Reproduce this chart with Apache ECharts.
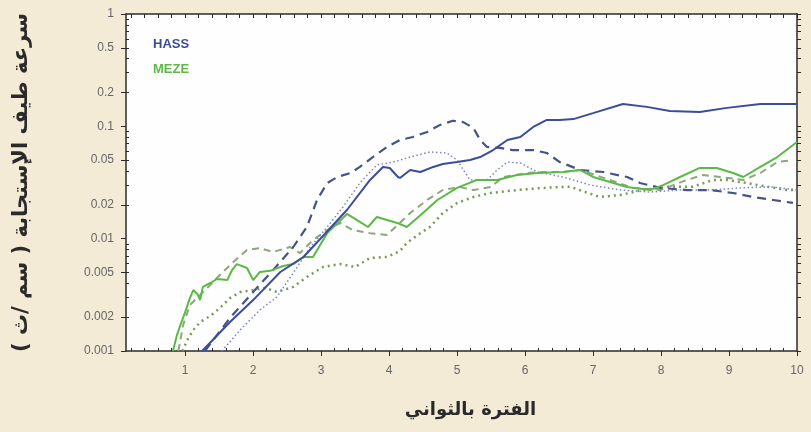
<!DOCTYPE html>
<html>
<head>
<meta charset="utf-8">
<style>
  html, body { margin: 0; padding: 0; background: #f4ebd7; }
  #chart { width: 811px; height: 432px; }
</style>
<script src="https://cdn.jsdelivr.net/npm/echarts@6/dist/echarts.min.js"></script>
</head>
<body>
<div id="chart"></div>
<script>
// Tick labels
const xTicks = [1, 2, 3, 4, 5, 6, 7, 8, 9, 10];
const yTicks = [0.001, 0.002, 0.005, 0.01, 0.02, 0.05, 0.1, 0.2, 0.5, 1];

// Station names
const stations = ['HASS', 'MEZE'];

// Response spectra: [period (s), velocity (cm/s)]
const hassSolid = [
  [1.25, 0.001], [1.66, 0.00181], [2.0, 0.00284], [2.4, 0.00505], [2.74, 0.00687],
  [3.01, 0.0103], [3.38, 0.018], [3.72, 0.0333], [3.91, 0.0435], [4.01, 0.0426],
  [4.13, 0.0354], [4.16, 0.0347], [4.31, 0.0409], [4.46, 0.0392], [4.65, 0.0435],
  [4.79, 0.0462], [5.0, 0.0481], [5.19, 0.0501], [5.34, 0.0533], [5.53, 0.0615],
  [5.74, 0.0755], [5.93, 0.0804], [6.12, 0.0987], [6.32, 0.114], [6.51, 0.114],
  [6.71, 0.116], [7.0, 0.131], [7.44, 0.158], [7.79, 0.149], [8.13, 0.137],
  [8.57, 0.134], [8.97, 0.146], [9.46, 0.158], [10.0, 0.158]
];
const hassDashed = [
  [1.29, 0.001], [1.66, 0.00197], [2.0, 0.00335], [2.32, 0.00548], [2.59, 0.00843],
  [2.79, 0.0127], [2.94, 0.0221], [3.09, 0.0313], [3.24, 0.0354], [3.43, 0.0384],
  [3.57, 0.0435], [3.76, 0.0533], [3.97, 0.0655], [4.16, 0.0755], [4.35, 0.0804],
  [4.56, 0.0891], [4.75, 0.103], [4.94, 0.112], [5.09, 0.109], [5.24, 0.0966],
  [5.34, 0.0755], [5.44, 0.0655], [5.63, 0.0642], [5.82, 0.0615], [6.12, 0.0615],
  [6.32, 0.0579], [6.51, 0.0481], [6.81, 0.0409], [7.15, 0.0392], [7.5, 0.0354],
  [7.69, 0.0313], [7.99, 0.0283], [8.38, 0.0271], [8.72, 0.0271], [9.06, 0.0255],
  [9.35, 0.0235], [9.65, 0.0221], [9.94, 0.0208]
];
const hassDotted = [
  [1.54, 0.001], [1.81, 0.00154], [2.1, 0.00232], [2.35, 0.00303], [2.59, 0.00495],
  [2.84, 0.00843], [3.09, 0.0127], [3.32, 0.0191], [3.57, 0.0313], [3.82, 0.0453],
  [4.06, 0.0481], [4.31, 0.0533], [4.6, 0.0591], [4.85, 0.0579], [5.0, 0.0501],
  [5.19, 0.0333], [5.44, 0.0333], [5.59, 0.0409], [5.74, 0.0481], [5.93, 0.0472],
  [6.18, 0.0393], [6.56, 0.0354], [6.96, 0.03], [7.4, 0.0271], [7.84, 0.026],
  [8.28, 0.0271], [8.72, 0.0271], [9.16, 0.0283], [9.6, 0.029], [10.0, 0.0271]
];
const mezeSolid = [
  [0.82, 0.001], [0.88, 0.00139], [0.93, 0.0017], [1.0, 0.00222], [1.07, 0.00296],
  [1.12, 0.00349], [1.18, 0.00322], [1.22, 0.00284], [1.26, 0.00372], [1.37, 0.00403],
  [1.47, 0.00438], [1.62, 0.00428], [1.69, 0.00526], [1.76, 0.00594], [1.91, 0.00548],
  [2.0, 0.00428], [2.1, 0.00505], [2.25, 0.00517], [2.44, 0.00571], [2.59, 0.00594],
  [2.74, 0.00687], [2.88, 0.00687], [3.09, 0.0112], [3.38, 0.0166], [3.57, 0.0141],
  [3.69, 0.0127], [3.82, 0.0156], [4.12, 0.0138], [4.26, 0.0127], [4.46, 0.0162],
  [4.71, 0.0221], [5.0, 0.0283], [5.29, 0.0333], [5.59, 0.0333], [5.88, 0.0369],
  [6.18, 0.0384], [6.56, 0.0392], [6.81, 0.0409], [7.0, 0.0354], [7.5, 0.0288],
  [7.84, 0.0271], [8.03, 0.03], [8.28, 0.0354], [8.57, 0.0426], [8.82, 0.0426],
  [9.06, 0.0384], [9.21, 0.0354], [9.46, 0.0435], [9.71, 0.0533], [10.0, 0.0726]
];
const mezeDashed = [
  [0.9, 0.001], [0.97, 0.0017], [1.07, 0.00257], [1.22, 0.00315], [1.37, 0.00387],
  [1.51, 0.00475], [1.71, 0.0062], [1.91, 0.00793], [2.1, 0.00826], [2.29, 0.0076],
  [2.54, 0.00843], [2.69, 0.00745], [2.88, 0.00973], [3.09, 0.0119], [3.28, 0.0138],
  [3.47, 0.0119], [3.72, 0.0112], [3.97, 0.0108], [4.31, 0.0169], [4.56, 0.0221],
  [4.79, 0.0271], [5.04, 0.0288], [5.24, 0.0271], [5.49, 0.0288], [5.68, 0.0354],
  [6.03, 0.0384], [6.26, 0.0392], [6.56, 0.0392], [6.81, 0.0409], [7.25, 0.0333],
  [7.59, 0.0283], [7.99, 0.0271], [8.38, 0.0333], [8.62, 0.0369], [8.87, 0.0354],
  [9.21, 0.0333], [9.46, 0.0384], [9.71, 0.0481], [9.94, 0.0501]
];
const mezeDotted = [
  [0.96, 0.001], [1.03, 0.00125], [1.12, 0.00154], [1.22, 0.00181], [1.37, 0.00205],
  [1.51, 0.00241], [1.66, 0.00296], [1.81, 0.00335], [2.0, 0.00349], [2.18, 0.00364],
  [2.35, 0.00335], [2.59, 0.00372], [2.79, 0.00456], [3.03, 0.0056], [3.28, 0.00594],
  [3.5, 0.0056], [3.72, 0.00673], [3.97, 0.00687], [4.16, 0.00776], [4.26, 0.00915],
  [4.46, 0.0112], [4.6, 0.0127], [4.79, 0.0169], [5.0, 0.0208], [5.24, 0.0235],
  [5.49, 0.0255], [5.88, 0.0271], [6.26, 0.0283], [6.66, 0.029], [7.1, 0.0235],
  [7.4, 0.0245], [7.74, 0.0271], [8.09, 0.029], [8.47, 0.029], [8.76, 0.0333],
  [8.97, 0.0333], [9.26, 0.0313], [9.56, 0.029], [9.85, 0.0271], [10.0, 0.0271]
];

const BLUE = '#3b4c9c';
const GREEN = '#5cb947';

// Minor tick positions: every 0.2 s along the period axis, 2..9 per decade on the log axis
const xMinor = [];
for (let i = 1; i <= 50; i++) { const v = +(i * 0.2).toFixed(1); if (v >= 0.2 && v <= 10 && Math.abs(v - Math.round(v)) > 1e-6) xMinor.push(v); }
const yMinor = [];
[0.001, 0.01, 0.1].forEach(d => { for (let k = 2; k <= 9; k++) yMinor.push(+(d * k).toPrecision(3)); });

const frame = { show: true, lineStyle: { color: '#2b2b2b', width: 1.5 } };
const labelStyle = { color: '#666666', fontFamily: 'Liberation Sans', fontSize: 12 };

function line(data, color, type, width) {
  return {
    type: 'line', data: data, showSymbol: false, symbol: 'none', smooth: false,
    xAxisIndex: 0, yAxisIndex: 0, clip: true,
    lineStyle: { color: color, type: type, width: width, cap: 'butt' }
  };
}

const chart = echarts.init(document.getElementById('chart'), null, { renderer: 'canvas' });
chart.setOption({
  backgroundColor: '#f4ebd7',
  animation: false,
  grid: { left: 126, right: 14, top: 14, bottom: 81, show: true, backgroundColor: '#fefefe', borderWidth: 0 },
  xAxis: [
    {
      type: 'value', min: 0.13, max: 10, position: 'bottom',
      axisLine: frame, splitLine: { show: false },
      axisTick: { show: true, inside: false, length: 5, customValues: xTicks, lineStyle: { color: '#2b2b2b' } },
      axisLabel: Object.assign({ customValues: xTicks, margin: 14 }, labelStyle),
      name: 'الفترة بالثواني', nameLocation: 'middle', nameGap: 50,
      nameTextStyle: { fontFamily: 'DejaVu Sans', fontWeight: 'bold', fontSize: 18, color: '#2a2a2a', padding: [0, 0, 0, 18] }
    },
    {
      type: 'value', min: 0.13, max: 10, position: 'bottom',
      axisLine: { show: false }, splitLine: { show: false }, axisLabel: { show: false },
      axisTick: { show: true, inside: true, length: 3, customValues: xMinor, lineStyle: { color: '#2b2b2b' } }
    },
    {
      type: 'value', min: 0.13, max: 10, position: 'top',
      axisLine: frame, splitLine: { show: false }, axisLabel: { show: false },
      axisTick: { show: true, inside: true, length: 4, customValues: xTicks.concat(xMinor), lineStyle: { color: '#2b2b2b' } }
    }
  ],
  yAxis: [
    {
      type: 'log', logBase: 10, min: 0.001, max: 1, position: 'left',
      axisLine: frame, splitLine: { show: false }, minorTick: { show: false },
      axisTick: { show: true, inside: false, length: 5, customValues: yTicks, lineStyle: { color: '#2b2b2b' } },
      axisLabel: Object.assign({ customValues: yTicks, margin: 12, formatter: v => String(+v.toPrecision(3)) }, labelStyle),
      name: 'سرعة طيف الإستجابة ( سم /ث )', nameLocation: 'middle', nameGap: 94, nameRotate: 90,
      nameTextStyle: { fontFamily: 'DejaVu Sans', fontWeight: 'bold', fontSize: 21, color: '#2a2a2a' }
    },
    {
      type: 'log', logBase: 10, min: 0.001, max: 1, position: 'left',
      axisLine: { show: false }, splitLine: { show: false }, axisLabel: { show: false },
      axisTick: { show: true, inside: true, length: 3, customValues: yMinor, lineStyle: { color: '#2b2b2b' } }
    },
    {
      type: 'log', logBase: 10, min: 0.001, max: 1, position: 'right',
      axisLine: frame, splitLine: { show: false }, axisLabel: { show: false },
      axisTick: { show: true, inside: false, length: 4, customValues: yTicks.concat(yMinor), lineStyle: { color: '#2b2b2b' } }
    }
  ],
  graphic: [
    { type: 'text', left: 153, top: 38, style: { text: stations[0], fill: BLUE, font: 'bold 13px "Liberation Sans"' } },
    { type: 'text', left: 153, top: 63, style: { text: stations[1], fill: GREEN, font: 'bold 13px "Liberation Sans"' } }
  ],
  series: [
    line(mezeDotted, '#7a9a58', [2, 4], 2.5),
    line(mezeDashed, '#8aa87a', [7, 5], 2),
    line(hassDotted, '#7d83cc', [1.5, 2.5], 1.5),
    line(hassDashed, '#46538a', [9, 6], 2.2),
    line(mezeSolid, GREEN, 'solid', 2),
    line(hassSolid, BLUE, 'solid', 2)
  ]
});
</script>
</body>
</html>
